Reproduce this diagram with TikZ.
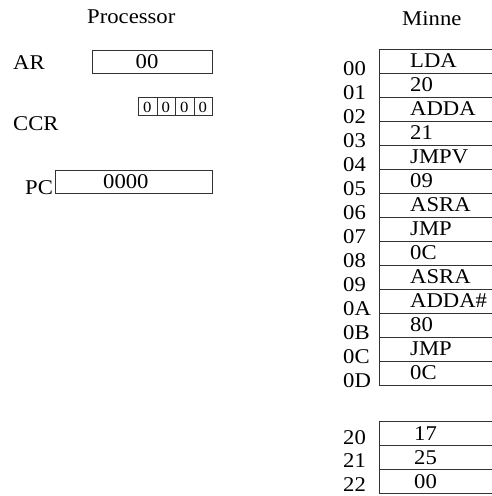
\documentclass[tikz,border=0pt]{standalone}
\usepackage{fontspec}
\setmainfont{Liberation Serif}[FakeStretch=1.08]
\begin{document}
\begin{tikzpicture}[x=1pt,y=-1pt,
  box/.style={draw=black!80,line width=0.9pt,inner sep=0pt,anchor=north west},
  txt/.style={inner sep=0pt,anchor=base west,font=\fontsize{21}{24}\selectfont},
  ctxt/.style={inner sep=0pt,anchor=base,font=\fontsize{21}{24}\selectfont},
  stxt/.style={inner sep=0pt,anchor=base,font=\fontsize{15.5}{18}\selectfont}]
\clip (0,0) rectangle (492,496);
% titles
\node[txt] (proc) at (87,23) {Processor};
\node[txt] (minne) at (402,25) {Minne};
% AR
\node[txt] (arl) at (13,69) {AR};
\node[box,minimum width=120pt,minimum height=23pt] (ar) at (92,50) {};
\node[ctxt] (arv) at (147,68) {00};
% CCR
\node[txt] (ccrl) at (13,130) {CCR};
\foreach \k in {0,1,2,3}{
  \node[box,minimum width=18.5pt,minimum height=18pt] (ccr\k) at ({138+18.5*\k},97) {};
  \node[stxt] (ccrv\k) at ({147.25+18.5*\k},112) {0};
}
% PC
\node[txt] (pcl) at (25,194) {PC};
\node[box,minimum width=157pt,minimum height=23pt] (pc) at (55,170) {};
\node[txt] (pcv) at (103,188) {0000};
% memory
\foreach \t/\l [count=\i from 0] in {LDA/00,20/01,ADDA/02,21/03,JMPV/04,09/05,ASRA/06,JMP/07,0C/08,ASRA/09,ADDA\#/0A,80/0B,JMP/0C,0C/0D}{
  \node[box,minimum width=160pt,minimum height=24pt] (m\i) at (379,{49+24*\i}) {};
  \node[txt] (mt\i) at (410,{67+24*\i}) {\t};
  \node[txt] (ml\i) at (343,{75+24*\i}) {\l};
}
\foreach \t/\l [count=\i from 0] in {17/20,25/21,00/22}{
  \node[box,minimum width=160pt,minimum height=24pt] (d\i) at (379,{421+24*\i}) {};
  \node[txt] (dt\i) at (414,{440+24*\i}) {\t};
  \node[txt] (dl\i) at (343,{444+23.5*\i}) {\l};
}
\end{tikzpicture}
\end{document}
